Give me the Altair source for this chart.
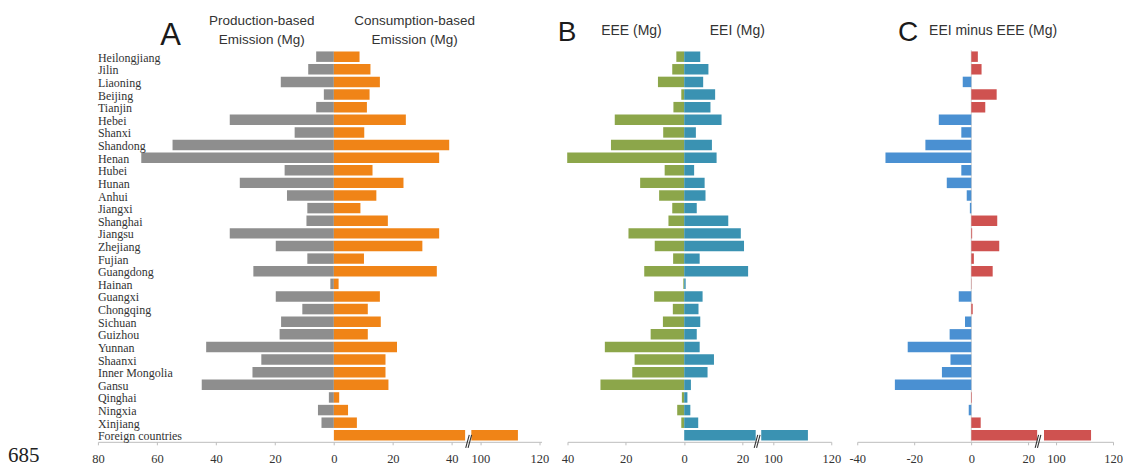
import altair as alt
import pandas as pd

provinces = ["Heilongjiang", "Jilin", "Liaoning", "Beijing", "Tianjin", "Hebei", "Shanxi",
             "Shandong", "Henan", "Hubei", "Hunan", "Anhui", "Jiangxi", "Shanghai", "Jiangsu",
             "Zhejiang", "Fujian", "Guangdong", "Hainan", "Guangxi", "Chongqing", "Sichuan",
             "Guizhou", "Yunnan", "Shaanxi", "Inner Mongolia", "Gansu", "Qinghai", "Ningxia",
             "Xinjiang", "Foreign countries"]

# Panel A (Mg)
production = [6.0, 8.7, 18.0, 3.4, 6.0, 35.3, 13.3, 54.7, 65.3, 16.7, 31.9, 15.9, 9.0, 9.3, 35.3,
              19.7, 9.0, 27.3, 1.2, 19.7, 10.7, 17.9, 18.4, 43.3, 24.6, 27.6, 44.8, 1.7, 5.4, 4.2, 0.0]
consumption = [8.7, 12.4, 15.6, 12.1, 11.2, 24.4, 10.3, 39.1, 35.7, 13.1, 23.6, 14.4, 9.0, 18.3, 35.7,
               30.0, 10.2, 34.9, 1.6, 15.6, 11.5, 15.9, 11.5, 21.4, 17.5, 17.5, 18.5, 1.8, 4.8, 7.8, 112.7]
# Panel B (Mg)
eee = [2.7, 4.1, 9.0, 1.0, 3.7, 23.8, 7.2, 25.1, 40.1, 6.7, 15.1, 8.6, 4.1, 5.4, 19.1,
       10.1, 3.8, 13.7, 0.3, 10.3, 3.9, 7.3, 11.5, 27.2, 17.0, 17.8, 28.7, 0.8, 2.4, 1.0, 0.0]
eei = [5.5, 8.3, 6.5, 10.6, 9.0, 12.8, 4.0, 9.5, 11.1, 3.4, 7.0, 7.3, 4.3, 15.1, 19.4,
       20.5, 5.3, 21.9, 0.5, 6.3, 4.9, 5.5, 4.3, 5.3, 10.2, 8.0, 2.3, 1.1, 2.1, 4.8, 112.0]
# Panel C (Mg)
eei_minus_eee = [2.3, 3.6, -3.0, 8.9, 4.9, -11.4, -3.5, -16.1, -30.1, -3.5, -8.6, -1.6, -0.5, 9.1, 0.3,
                 9.8, 0.9, 7.5, 0.1, -4.4, 0.5, -2.2, -7.6, -22.3, -7.3, -10.3, -26.8, 0.2, -0.9, 3.3, 112.3]

ticks_A = [-80, -60, -40, -20, 0, 20, 40, 100, 120]
tick_labels_A = ["80", "60", "40", "20", "0", "20", "40", "100", "120"]
ticks_B = [-40, -20, 0, 20, 100, 120]
tick_labels_B = ["40", "20", "0", "20", "100", "120"]
ticks_C = [-40, -20, 0, 20, 100, 120]
tick_labels_C = ["-40", "-20", "0", "20", "100", "120"]

H = 392
SERIF = "Liberation Serif"
SANS = "Liberation Sans"

# broken-axis settings: (offset subtracted from values >= 100, gap in the long bar, domain, width)
CFG = {
    "A": dict(off=50.3, gap=(44.5, 46.6), dom=[-80, 70.4], w=444, mark=44.7),
    "B": dict(off=69.6, gap=(24.5, 26.4), dom=[-40, 50.4], w=264, mark=24.0),
    "C": dict(off=70.3, gap=(23.1, 25.5), dom=[-40, 49.7], w=256, mark=22.4),
}


def split(v, cfg):
    if v >= 100:
        return [(0, cfg["gap"][0]), (cfg["gap"][1], v - cfg["off"])]
    return [(0, v)]


def label_expr(pos, labels):
    expr = "''"
    for p, l in reversed(list(zip(pos, labels))):
        expr = f"(abs(datum.value - ({p:.4f})) < 0.01 ? '{l}' : {expr})"
    return expr


def xaxis(ticks, labels, cfg):
    pos = [t if t < 100 else t - cfg["off"] for t in ticks]
    return alt.Axis(values=pos, labelExpr=label_expr(pos, labels), title=None, grid=False,
                    domainColor="#bdbdbd", tickColor="#bdbdbd", tickSize=3,
                    labelFont=SERIF, labelFontSize=12.5, labelColor="#333333",
                    labelPadding=8, labelFlush=False, labelOverlap=False)


yenc = alt.Y("province:N", sort=provinces, axis=None,
             scale=alt.Scale(paddingInner=0.17, paddingOuter=0.1))


def bars(rows, ticks, labels, cfg, dom_series, rng_series):
    df = pd.DataFrame(rows, columns=["province", "x0", "x1", "series"])
    return alt.Chart(df).mark_bar().encode(
        x=alt.X("x0:Q", scale=alt.Scale(domain=cfg["dom"], nice=False, zero=False),
                axis=xaxis(ticks, labels, cfg)),
        x2="x1:Q",
        y=yenc,
        color=alt.Color("series:N", scale=alt.Scale(domain=dom_series, range=rng_series), legend=None),
    )


def breakmark(cfg):
    m = cfg["mark"]
    df = pd.DataFrame({"bx": [m, m + 0.8], "bx2": [m + 1.2, m + 2.0]})
    return alt.Chart(df).mark_rule(color="#333333", strokeWidth=1.1).encode(
        x="bx:Q", x2="bx2:Q", y=alt.value(H + 6), y2=alt.value(H - 7))


one = pd.DataFrame({"a": [0]})


def txt(s, x, y, size, font=SANS, color="#333333", align="center", lh=18.5):
    return alt.Chart(one).mark_text(font=font, fontSize=size, color=color, align=align,
                                    baseline="alphabetic", lineHeight=lh).encode(
        x=alt.value(x), y=alt.value(y), text=alt.value(s))


# ---- Panel A
cA = CFG["A"]
rowsA = []
for p, pr, co in zip(provinces, production, consumption):
    if pr > 0:
        rowsA.append((p, -pr, 0, "Production"))
    for a, b in split(co, cA):
        rowsA.append((p, a, b, "Consumption"))
barsA = bars(rowsA, ticks_A, tick_labels_A, cA, ["Production", "Consumption"], ["#8e8e8e", "#f08417"])
labelsA = alt.Chart(pd.DataFrame({"province": provinces})).mark_text(
    font=SERIF, fontSize=12, color="#333333", align="left", baseline="middle", dy=1).encode(
    y=yenc, x=alt.value(0), text="province:N")
panelA = alt.layer(
    barsA, labelsA, breakmark(cA),
    txt("A", 72.7, -5, 31, color="#1a1a1a"),
    txt(["Production-based", "Emission (Mg)"], 164, -25, 13.5),
    txt(["Consumption-based", "Emission (Mg)"], 317, -25, 13.5),
    txt("685", -90, H + 20, 21, font=SERIF, color="#222222", align="left"),
).properties(width=cA["w"], height=H)

# ---- Panel B
cB = CFG["B"]
rowsB = []
for p, e1, e2 in zip(provinces, eee, eei):
    if e1 > 0:
        rowsB.append((p, -e1, 0, "EEE"))
    for a, b in split(e2, cB):
        rowsB.append((p, a, b, "EEI"))
barsB = bars(rowsB, ticks_B, tick_labels_B, cB, ["EEE", "EEI"], ["#8ca64a", "#3a92b2"])
panelB = alt.layer(
    barsB, breakmark(cB),
    txt("B", -0.5, -9.5, 28, color="#1a1a1a"),
    txt("EEE (Mg)", 64, -15.5, 14),
    txt("EEI (Mg)", 170, -15.5, 14),
).properties(width=cB["w"], height=H)

# ---- Panel C
cC = CFG["C"]
rowsC = []
for p, v in zip(provinces, eei_minus_eee):
    if v < 0:
        rowsC.append((p, v, 0, "neg"))
    else:
        for a, b in split(v, cC):
            rowsC.append((p, a, b, "pos"))
barsC = bars(rowsC, ticks_C, tick_labels_C, cC, ["neg", "pos"], ["#4a90d2", "#cf5250"])
zeroC = alt.Chart(one).mark_rule(color="#cfcfcf", strokeWidth=1).encode(x=alt.datum(0))
panelC = alt.layer(
    zeroC, barsC, breakmark(cC),
    txt("C", 51, -9.5, 28, color="#1a1a1a"),
    txt("EEI minus EEE (Mg)", 136, -15.5, 14),
).properties(width=cC["w"], height=H)

chart = alt.hconcat(panelA, panelB, panelC, spacing=26, bounds="flush").resolve_scale(
    color="independent").configure_view(stroke=None).properties(
    padding={"left": 0, "top": 6, "right": 0, "bottom": 0})

chart.save("out.html", embed_options={"renderer": "svg", "actions": False})
